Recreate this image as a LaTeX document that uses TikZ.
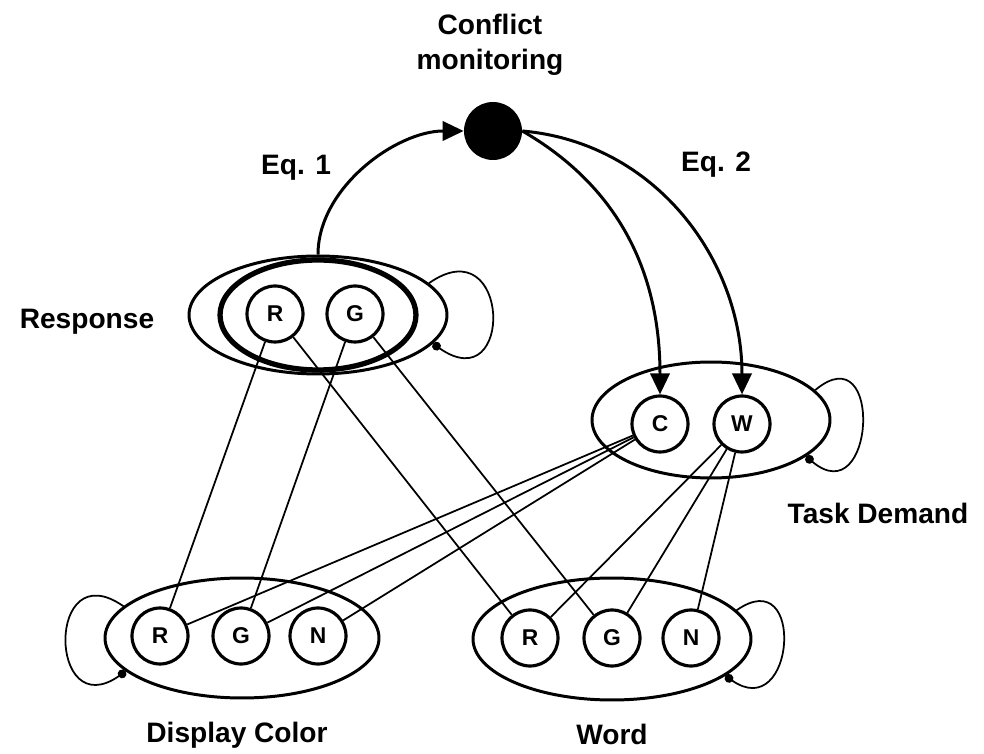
\documentclass[tikz,border=0pt]{standalone}
\usepackage{fontspec}
\setmainfont{Liberation Sans}
\usetikzlibrary{shapes.geometric,arrows.meta}

\begin{document}
\begin{tikzpicture}[x=0.02cm, y=0.02cm,
    unit/.style={circle, draw, line width=1.8pt, minimum size=1.12cm, inner sep=0pt,
        font=\bfseries\fontsize{13}{15}\selectfont},
    layer/.style={ellipse, draw, line width=1.7pt, inner sep=0pt},
    title/.style={font=\bfseries\fontsize{16}{20}\selectfont, align=center},
    wire/.style={line width=1pt},
    eqarrow/.style={line width=1.7pt, -{Triangle[length=12pt,width=11pt]}},
    selfloop/.style={line width=1pt, -{Circle[length=5pt]}}]
    \useasboundingbox (0,0) rectangle (984,754);

    % the layers (big ellipses)
    \node[layer, minimum width=5.16cm, minimum height=2.36cm] (resp) at (318,439) {};
    \node[layer, line width=3pt, minimum width=3.92cm, minimum height=2.2cm] (respin) at (318,439) {};
    \node[layer, minimum width=4.76cm, minimum height=2.32cm] (task) at (711,334) {};
    \node[layer, minimum width=5.48cm, minimum height=2.4cm] (disp) at (242,116) {};
    \node[layer, minimum width=5.56cm, minimum height=2.44cm] (word) at (612,115) {};

    % the units inside the layers
    \node[unit] (rR) at (275,440) {R};
    \node[unit] (rG) at (355,440) {G};
    %
    \node[unit] (tC) at (660,330) {C};
    \node[unit] (tW) at (742,330) {W};
    %
    \node[unit] (dR) at (160,118) {R};
    \node[unit] (dG) at (241,118) {G};
    \node[unit] (dN) at (318,118) {N};
    %
    \node[unit] (wR) at (530,116) {R};
    \node[unit] (wG) at (612,116) {G};
    \node[unit] (wN) at (691,116) {N};

    % the conflict monitoring unit
    \node[circle, fill=black, minimum size=1.16cm, inner sep=0pt] (mon) at (493,623) {};

    % the texts
    \node[title] (montext) at (490,709) {Conflict\\monitoring};
    \node[title] (eq1) at (296,586) {Eq. 1};
    \node[title] (eq2) at (716,589) {Eq. 2};
    \node[title] (resptext) at (87,432) {Response};
    \node[title] (tasktext) at (878,241) {Task Demand};
    \node[title] (disptext) at (237,19) {Display Color};
    \node[title] (wordtext) at (612,20) {Word};

    % the connections between the units
    \draw[wire] (rR) -- (dR);
    \draw[wire] (rR) -- (wR);
    \draw[wire] (rG) -- (dG);
    \draw[wire] (rG) -- (wG);
    %
    \draw[wire] (tC) -- (dR);
    \draw[wire] (tC) -- (dG);
    \draw[wire] (tC) -- (dN);
    \draw[wire] (tW) -- (wR);
    \draw[wire] (tW) -- (wG);
    \draw[wire] (tW) -- (wN);

    % the self loops
    \draw[selfloop] (resp.16) to[out=35, in=-35, distance=2cm] (resp.-14);
    \draw[selfloop] (task.16) to[out=40, in=-40, distance=1.8cm] (task.-21);
    \draw[selfloop] (disp.165) to[out=145, in=215, distance=1.9cm] (disp.-164);
    \draw[selfloop] (word.13) to[out=35, in=-35, distance=1.7cm] (word.-18);

    % the conflict arrows
    \draw[eqarrow] (resp.north) to[out=90, in=180, looseness=0.9] (mon.west);
    \draw[eqarrow] (mon.east) to[out=-30, in=90] (tC.north);
    \draw[eqarrow] (mon.east) to[out=-5, in=90] (tW.north);
\end{tikzpicture}
\end{document}
